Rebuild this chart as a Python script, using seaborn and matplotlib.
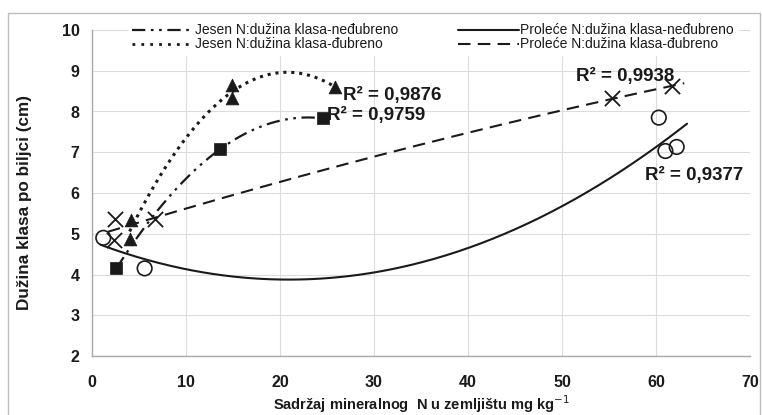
import numpy as np
import pandas as pd
import matplotlib
matplotlib.use("Agg")
import matplotlib.pyplot as plt
import seaborn as sns
from matplotlib.lines import Line2D
from matplotlib.patches import Rectangle

# ---------------- data ----------------
jesen_ned_x = [2.6, 13.6, 24.6]
jesen_ned_y = [4.15, 7.07, 7.83]

jesen_dub_x = [4.0, 4.2, 14.9, 14.9, 25.9]
jesen_dub_y = [4.88, 5.33, 8.32, 8.64, 8.60]

prolece_ned_x = [1.2, 5.6, 60.3, 61.0, 62.2]
prolece_ned_y = [4.90, 4.15, 7.85, 7.03, 7.13]

prolece_dub_x = [2.3, 2.4, 6.7, 55.3, 61.7]
prolece_dub_y = [4.84, 5.37, 5.37, 8.32, 8.62]

series_names = ["Jesen N:dužina klasa-neđubreno",
                "Jesen N:dužina klasa-đubreno",
                "Proleće N:dužina klasa-neđubreno",
                "Proleće N:dužina klasa-đubreno"]

r2_labels = ["R² = 0,9759", "R² = 0,9876", "R² = 0,9377", "R² = 0,9938"]

x_ticks = [0, 10, 20, 30, 40, 50, 60, 70]
y_ticks = [2, 3, 4, 5, 6, 7, 8, 9, 10]

# ---------------- style ----------------
sns.set_theme(style="white")
plt.rcParams["font.family"] = ["Liberation Sans", "DejaVu Sans"]

W, H = 762, 415
fig = plt.figure(figsize=(W / 100, H / 100), dpi=100)
ax = fig.add_axes([92 / W, 1 - 356 / H, (750 - 92) / W, (356 - 30) / H])

INK = "#1a1a1a"
DASHDOT = (6, 2.5, 1.2, 2.5, 1.2, 2.5)
DOTS = (1.0, 1.6)
DASH = (6, 3.5)


def trend(x, y, fwd=0.0, back=0.0):
    """Excel-like 2nd-order polynomial trendline of the series."""
    c = np.polyfit(x, y, 2)
    xs = np.linspace(min(x) - back, max(x) + fwd, 300)
    return pd.DataFrame({"x": xs, "y": np.polyval(c, xs)})


# trend lines
specs = [
    (jesen_ned_x, jesen_ned_y, DASHDOT, 1.6, 0, 0),
    (jesen_dub_x, jesen_dub_y, DOTS, 2.2, 0, 0),
    (prolece_ned_x, prolece_ned_y, None, 1.5, 1.1, 0.3),
    (prolece_dub_x, prolece_dub_y, DASH, 1.5, 1.3, 0.6),
]
for x, y, dashes, lw, fwd, back in specs:
    df = trend(x, y, fwd, back)
    sns.lineplot(data=df, x="x", y="y", ax=ax, color=INK, lw=lw,
                 sort=False, estimator=None, legend=False)
    if dashes is not None:
        ax.lines[-1].set_dashes(dashes)

# markers
sns.scatterplot(x=jesen_ned_x, y=jesen_ned_y, ax=ax, marker="s", s=75,
                color=INK, edgecolor=INK, linewidth=0.5, zorder=5)
sns.scatterplot(x=jesen_dub_x, y=jesen_dub_y, ax=ax, marker="^", s=85,
                color=INK, edgecolor=INK, linewidth=0.5, zorder=5)
sns.scatterplot(x=prolece_ned_x, y=prolece_ned_y, ax=ax, marker="o", s=110,
                facecolor="none", edgecolor=INK, linewidth=1.2, zorder=5)
sns.scatterplot(x=prolece_dub_x, y=prolece_dub_y, ax=ax, marker="x", s=120,
                color=INK, linewidth=1.3, zorder=5)

# R² annotations
r2_pos = [(25.0, 7.90), (26.7, 8.40), (58.8, 6.44), (51.5, 8.85)]
for (tx, ty), lab in zip(r2_pos, r2_labels):
    ax.text(tx, ty, lab, fontsize=13.5, fontweight="bold", color=INK,
            ha="left", va="center", zorder=6)

# axes
ax.set_xlim(0, 70)
ax.set_ylim(2, 10)
ax.set_xticks(x_ticks)
ax.set_yticks(y_ticks)
ax.grid(True, color="#dcdcdc", lw=0.8)
ax.set_axisbelow(True)
for s in ["top", "right"]:
    ax.spines[s].set_visible(False)
for s in ["left", "bottom"]:
    ax.spines[s].set_color("#a8a8a8")
    ax.spines[s].set_linewidth(1.0)
ax.tick_params(axis="both", which="major", length=4, width=1, color="#a8a8a8",
               direction="out", labelsize=11.5, labelcolor=INK, pad=5)
ax.tick_params(axis="x", pad=10)
for t in ax.get_xticklabels() + ax.get_yticklabels():
    t.set_fontweight("bold")

ax.set_xlabel("Sadržaj mineralnog  N u zemljištu mg kg$^{-1}$", fontsize=10.5,
              fontweight="bold", color=INK, labelpad=2)
ax.set_ylabel("Dužina klasa po biljci (cm)", fontsize=12.3, fontweight="bold",
              color=INK)
ax.yaxis.set_label_coords(-0.091, 0.47)

# legend
handles = [
    Line2D([], [], color=INK, lw=1.6, dashes=DASHDOT),
    Line2D([], [], color=INK, lw=2.0, dashes=(1.0, 2.2)),
    Line2D([], [], color=INK, lw=1.5),
    Line2D([], [], color=INK, lw=1.5, dashes=DASH),
]
leg = fig.legend(handles, series_names, loc="upper left",
                 bbox_to_anchor=(129 / W, 1 - 20 / H), ncol=2, frameon=True,
                 fontsize=10, handlelength=4.4, handletextpad=0.1,
                 columnspacing=4.3, labelspacing=0.0, borderpad=0.25,
                 borderaxespad=0)
leg.get_frame().set_facecolor("white")
leg.get_frame().set_edgecolor("white")
leg.get_frame().set_alpha(1)
for t in leg.get_texts():
    t.set_color(INK)

# outer chart border
fig.patches.append(Rectangle((8 / W, -0.05), (760 - 8) / W, 1.05 - 13 / H,
                             transform=fig.transFigure, fill=False,
                             edgecolor="#bdbdbd", lw=1.0))

fig.savefig("out.png", dpi=100)
